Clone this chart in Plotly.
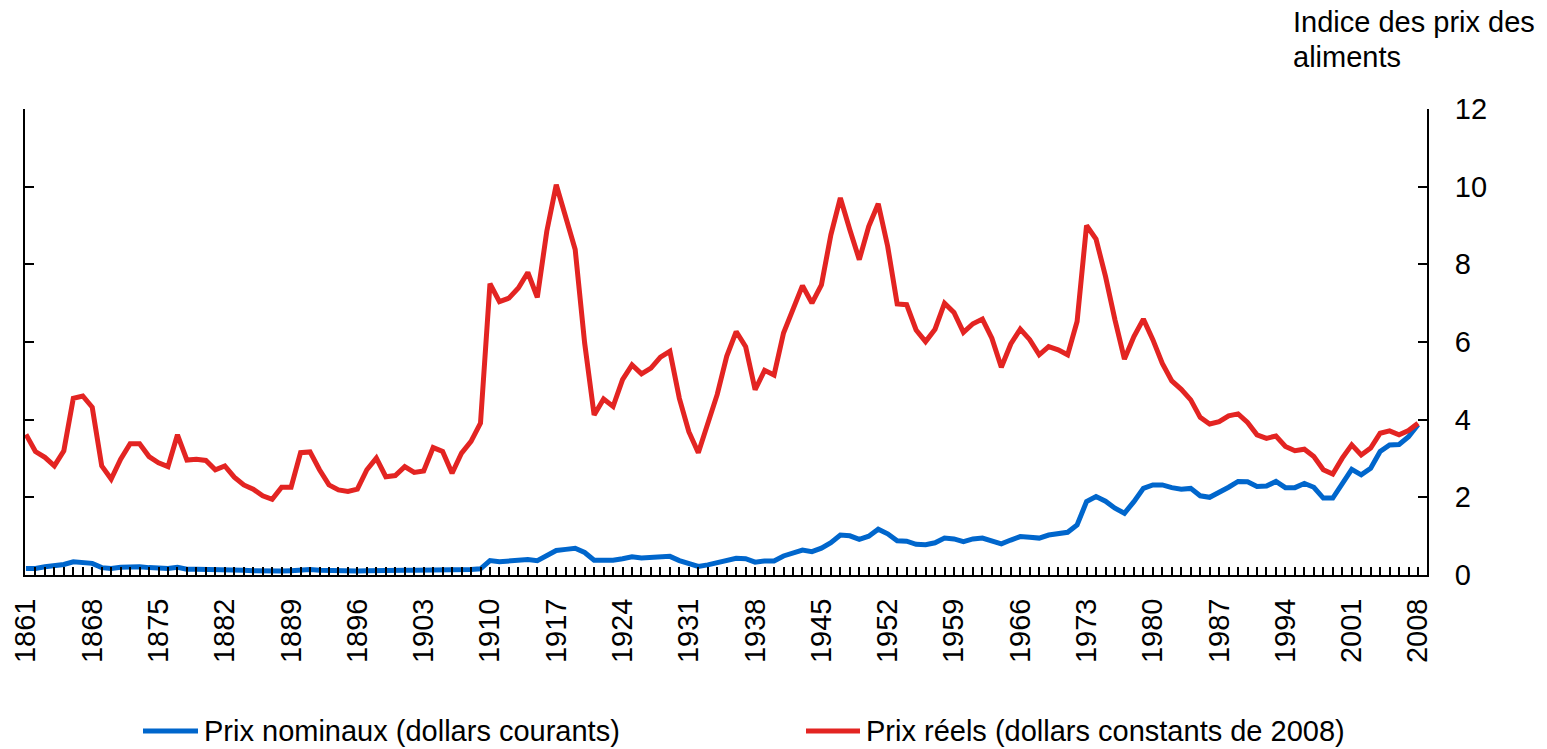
import plotly.graph_objects as go

years = list(range(1861, 2009))

label_years = [1861, 1868, 1875, 1882, 1889, 1896, 1903, 1910, 1917, 1924, 1931, 1938,
               1945, 1952, 1959, 1966, 1973, 1980, 1987, 1994, 2001, 2008]

nominal = [
    0.17, 0.17, 0.21, 0.24, 0.27, 0.34, 0.33, 0.30, 0.19, 0.17, 0.20, 0.21, 0.21, 0.19, 0.17,
    0.17, 0.20, 0.15, 0.15, 0.15, 0.15, 0.15, 0.13, 0.12, 0.11,
    0.10, 0.10, 0.10, 0.11, 0.13, 0.14, 0.12, 0.11, 0.10, 0.10, 0.10, 0.11, 0.12, 0.12, 0.12,
    0.12, 0.12, 0.12, 0.13, 0.13, 0.12, 0.13, 0.14, 0.16,
    0.37, 0.34, 0.36, 0.38, 0.40, 0.37, 0.49, 0.63, 0.66, 0.69, 0.58, 0.38, 0.38, 0.38, 0.42,
    0.47, 0.44, 0.45, 0.47, 0.48, 0.37, 0.28, 0.22, 0.26, 0.32,
    0.39, 0.43, 0.42, 0.33, 0.36, 0.36, 0.49, 0.58, 0.64, 0.60, 0.69, 0.83, 1.03, 1.01, 0.92,
    1.00, 1.18, 1.06, 0.88, 0.87, 0.79, 0.78, 0.83, 0.95,
    0.93, 0.86, 0.93, 0.95, 0.89, 0.80, 0.90, 0.99, 0.97, 0.95, 1.03, 1.07, 1.10, 1.29, 1.89,
    2.02, 1.90, 1.72, 1.59, 1.89, 2.23, 2.32, 2.32, 2.25, 2.21,
    2.23, 2.04, 2.00, 2.12, 2.26, 2.41, 2.40, 2.28, 2.29, 2.41, 2.25, 2.25, 2.36, 2.26, 1.98,
    1.98, 2.36, 2.72, 2.58, 2.75, 3.18, 3.35, 3.36, 3.56, 3.87,
]

real = [
    3.62, 3.18, 3.03, 2.81, 3.20, 4.55, 4.61, 4.32, 2.81, 2.47, 2.98, 3.38, 3.38, 3.05, 2.89,
    2.79, 3.61, 2.96, 2.98, 2.95, 2.71, 2.81, 2.52, 2.32, 2.21,
    2.04, 1.95, 2.26, 2.26, 3.15, 3.17, 2.71, 2.32, 2.19, 2.15, 2.21, 2.71, 3.01, 2.53, 2.56,
    2.79, 2.64, 2.68, 3.28, 3.18, 2.62, 3.14, 3.44, 3.91,
    7.50, 7.04, 7.13, 7.39, 7.79, 7.15, 8.85, 10.05, 9.23, 8.38, 5.97, 4.12, 4.53, 4.34, 5.03,
    5.41, 5.18, 5.33, 5.61, 5.76, 4.55, 3.69, 3.15, 3.88, 4.65,
    5.63, 6.27, 5.88, 4.77, 5.27, 5.15, 6.23, 6.87, 7.45, 7.00, 7.47, 8.76, 9.71, 8.89, 8.12,
    8.98, 9.56, 8.46, 6.98, 6.96, 6.31, 6.01, 6.33, 7.00,
    6.76, 6.25, 6.47, 6.59, 6.10, 5.35, 5.95, 6.33, 6.06, 5.67, 5.88, 5.80, 5.67, 6.53, 9.00,
    8.65, 7.69, 6.57, 5.56, 6.14, 6.59, 6.06, 5.45, 5.00, 4.78,
    4.51, 4.06, 3.89, 3.95, 4.10, 4.15, 3.93, 3.61, 3.52, 3.58, 3.31, 3.20, 3.24, 3.05, 2.71,
    2.60, 3.01, 3.35, 3.09, 3.27, 3.65, 3.71, 3.61, 3.72, 3.91,
]

y_ticks = [0, 2, 4, 6, 8, 10, 12]

name_nominal = "Prix nominaux (dollars courants)"
name_real = "Prix réels (dollars constants de 2008)"
axis_title_lines = ["Indice des prix des", "aliments"]

FONT = "Liberation Sans, Arial, sans-serif"
BLUE = "#0066CC"
RED = "#E32422"

W, H = 1547, 749
ML, MR, MT, MB = 25, 120, 109, 174
PW, PH = W - ML - MR, H - MT - MB


def px_x(p):
    return (p - ML) / PW


def px_y(p):
    return (H - MB - p) / PH


fig = go.Figure()
fig.add_trace(go.Scatter(x=years, y=nominal, mode="lines", name=name_nominal,
                         line=dict(color=BLUE, width=5), showlegend=False))
fig.add_trace(go.Scatter(x=years, y=real, mode="lines", name=name_real,
                         line=dict(color=RED, width=5), showlegend=False))

ticktext = [str(y) if y in label_years else "" for y in years]

# legend drawn as line samples + text, below the plot
legend_items = [(name_nominal, BLUE, 143, 198), (name_real, RED, 806, 860)]
shapes = []
annotations = []
LEG_Y = 731
for name, color, x0, x1 in legend_items:
    shapes.append(dict(type="line", xref="paper", yref="paper",
                       x0=px_x(x0), x1=px_x(x1), y0=px_y(LEG_Y), y1=px_y(LEG_Y),
                       line=dict(color=color, width=5)))
    annotations.append(dict(text=name, xref="paper", yref="paper", x=px_x(x1 + 4),
                            y=px_y(LEG_Y), xanchor="left", yanchor="middle",
                            showarrow=False, font=dict(size=29)))

for line_text, cy in zip(axis_title_lines, [22, 57]):
    annotations.append(dict(text=line_text, xref="paper", yref="paper", x=px_x(1291),
                            y=px_y(cy), xanchor="left", yanchor="middle", align="left",
                            showarrow=False, font=dict(size=29)))

fig.update_layout(
    width=W, height=H,
    margin=dict(l=ML, r=MR, t=MT, b=MB, autoexpand=False),
    paper_bgcolor="white", plot_bgcolor="white",
    font=dict(family=FONT, size=29, color="black"),
    showlegend=False,
    xaxis=dict(range=[1860.9, 2008.95], tickmode="array", tickvals=years, ticktext=ticktext,
               tickangle=-90, ticks="inside", ticklen=8, tickwidth=1.5, tickcolor="black",
               showline=True, linecolor="black", linewidth=2, showgrid=False, zeroline=False,
               ticklabelstandoff=10, tickfont=dict(size=29), automargin=False),
    yaxis=dict(range=[0, 12], side="right", tickmode="array", tickvals=y_ticks,
               ticks="inside", ticklen=9, tickwidth=1.5, tickcolor="black",
               showline=True, mirror="ticks", linecolor="black", linewidth=2,
               showgrid=False, zeroline=False, ticklabelstandoff=20, tickfont=dict(size=29),
               automargin=False),
    shapes=shapes,
    annotations=annotations,
)

fig.write_html("out.html", config={"displayModeBar": False},
               post_script="document.body.style.margin='0';document.body.style.overflow='hidden';")
